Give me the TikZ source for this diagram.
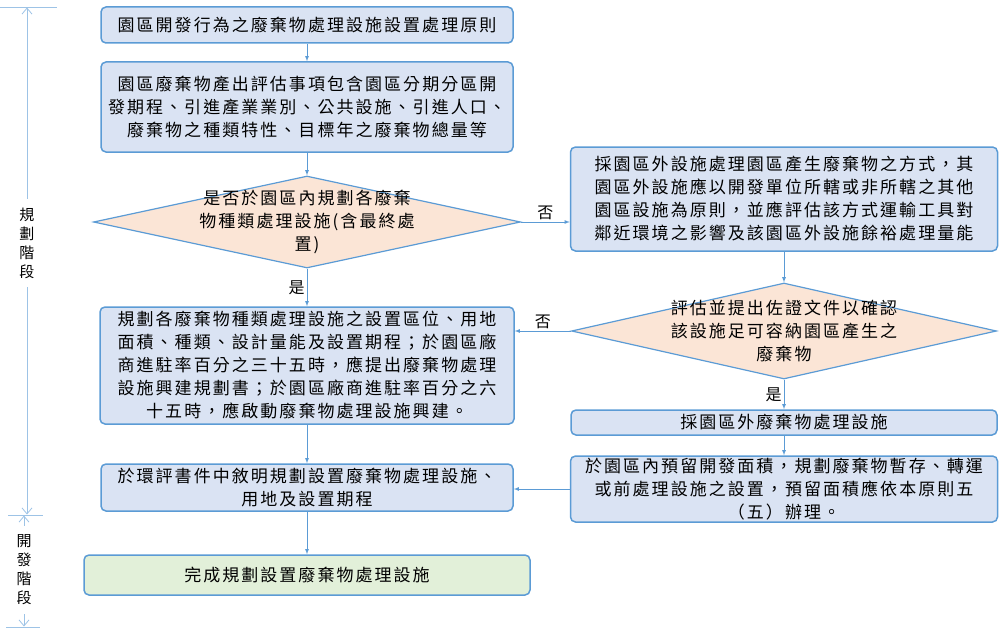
\documentclass[tikz,border=0pt]{standalone}
\usepackage{fontspec}
\setmainfont[LetterSpace=12]{Noto Sans CJK TC}
\usetikzlibrary{shapes.geometric,arrows.meta}
\definecolor{edgeblue}{HTML}{5B9BD5}
\definecolor{boxblue}{HTML}{DAE3F3}
\definecolor{boxpeach}{HTML}{FBE5D6}
\definecolor{boxgreen}{HTML}{E2F0D9}
\definecolor{axisblue}{HTML}{9DC3E6}

\begin{document}
\begin{tikzpicture}[x=1pt, y=-1pt,
  box/.style={rectangle, rounded corners=5pt, draw=edgeblue, line width=1.5pt, fill=boxblue, align=center, inner sep=0pt, font=\fontsize{17}{23}\selectfont},
  dec/.style={diamond, draw=edgeblue, line width=1.2pt, fill=boxpeach, inner sep=0pt},
  dectext/.style={align=center, inner sep=0pt, font=\fontsize{17}{23}\selectfont},
  flow/.style={draw=edgeblue, line width=0.8pt, -latex},
  yesno/.style={font=\fontsize{16}{16}\selectfont, inner sep=2pt},
  axis/.style={draw=axisblue, line width=0.8pt},
  span/.style={axis, {Straight Barb[length=6pt,width=10pt]}-{Straight Barb[length=6pt,width=10pt]}},
  stage/.style={fill=white, align=center, inner xsep=2pt, inner ysep=9pt, font=\fontsize{15}{19}\selectfont}]
  \useasboundingbox (0,0) rectangle (999,634);

  % stage axis
  \draw[axis] (0,7) -- (57,7);
  \draw[axis] (8,515) -- (43,515);
  \draw[axis] (6,627) -- (40,627);
  \coordinate (plantop) at (27,7.5);
  \coordinate (planbot) at (27,514.5);
  \coordinate (devtop) at (24,515.5);
  \coordinate (devbot) at (24,626.5);
  \draw[span] (plantop) -- (planbot);
  \draw[span] (devtop) -- (devbot);
  \node[stage] (planstage) at (27,243) {規\\劃\\階\\段};
  \node[stage] (devstage) at (24,570) {開\\發\\階\\段};

  % left column
  \node[box, minimum width=412, minimum height=36] (rule) at (307,25){園區開發行為之廢棄物處理設施設置處理原則};
  \node[box, minimum width=412, minimum height=90] (assess) at (307,107){園區廢棄物產出評估事項包含園區分期分區開\\發期程、引進產業業別、公共設施、引進人口、\\廢棄物之種類特性、目標年之廢棄物總量等};
  \node[dec, minimum width=427, minimum height=92] (inside) at (307,222){};
  \node[dectext] (insidetxt) at (inside){是否於園區內規劃各廢棄\\物種類處理設施(含最終處\\置)};
  \node[box, minimum width=414, minimum height=117] (plan) at (307,365.5){規劃各廢棄物種類處理設施之設置區位、用地\\面積、種類、設計量能及設置期程；於園區廠\\商進駐率百分之三十五時，應提出廢棄物處理\\設施興建規劃書；於園區廠商進駐率百分之六\\十五時，應啟動廢棄物處理設施興建。};
  \node[box, minimum width=412, minimum height=47] (eia) at (307,487.5){於環評書件中敘明規劃設置廢棄物處理設施、\\用地及設置期程};
  \node[box, fill=boxgreen, minimum width=446, minimum height=40] (done) at (307,575){完成規劃設置廢棄物處理設施};

  % right column
  \node[box, minimum width=427, minimum height=104] (outside) at (784,199){採園區外設施處理園區產生廢棄物之方式，其\\園區外設施應以開發單位所轄或非所轄之其他\\園區設施為原則，並應評估該方式運輸工具對\\鄰近環境之影響及該園區外設施餘裕處理量能};
  \node[dec, minimum width=425, minimum height=96] (enough) at (784,331){};
  \node[dectext] (enoughtxt) at (enough){評估並提出佐證文件以確認\\該設施足可容納園區產生之\\廢棄物};
  \node[box, minimum width=426, minimum height=25] (useout) at (784,422.5){採園區外廢棄物處理設施};
  \node[box, minimum width=427, minimum height=66] (reserve) at (784,489){於園區內預留開發面積，規劃廢棄物暫存、轉運\\或前處理設施之設置，預留面積應依本原則五\\（五）辦理。};

  % arrows
  \draw[flow] (rule) -- (assess);
  \draw[flow] (assess) -- (inside);
  \draw[flow] (inside.east) -- (inside.east -| outside.west) node[midway, above, yesno]{否};
  \draw[flow] (inside.south) -- (plan.north) node[midway, left, yesno]{是};
  \draw[flow] (outside) -- (enough);
  \draw[flow] (enough.west) -- (enough.west -| plan.east) node[midway, above, yesno]{否};
  \draw[flow] (enough.south) -- (useout.north) node[midway, left, yesno]{是};
  \draw[flow] (useout) -- (reserve);
  \draw[flow] (reserve.west) -- (reserve.west -| eia.east);
  \draw[flow] (plan) -- (eia);
  \draw[flow] (eia) -- (done);
\end{tikzpicture}
\end{document}
